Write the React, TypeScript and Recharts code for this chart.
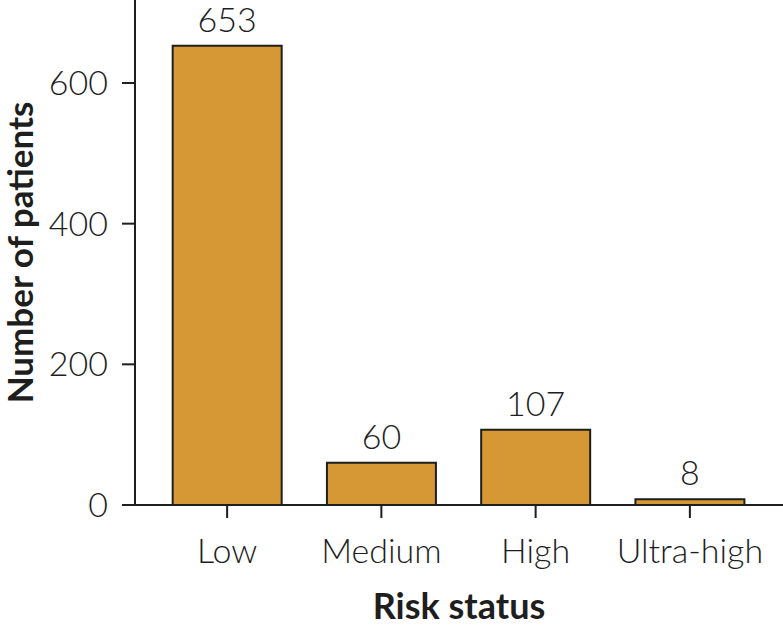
import { BarChart, Bar, XAxis, YAxis, LabelList } from "recharts";

const categories = ["Low", "Medium", "High", "Ultra-high"];
const patients = [653, 60, 107, 8];
const yTicks = [0, 200, 400, 600];

const data = categories.map((name, i) => ({ name, patients: patients[i] }));

const FONT = "Lato, 'Open Sans', sans-serif";
const INK = "#1e1e1e";

export default function App() {
  return (
    <div style={{ position: "absolute", left: 0, top: 0, background: "#fff" }}>
      <BarChart
        width={783}
        height={626}
        data={data}
        margin={{ top: 0, right: 0, left: 0, bottom: 0 }}
        barCategoryGap="14.7%"
      >
        <XAxis
          dataKey="name"
          height={121}
          padding={{ left: 15, right: 16 }}
          axisLine={{ stroke: INK, strokeWidth: 2 }}
          tickLine={{ stroke: INK, strokeWidth: 2 }}
          tickSize={13}
          tickMargin={21}
          tick={{ fontSize: 34, fill: INK, fontFamily: FONT, fontWeight: 300 }}
          label={{
            value: "Risk status",
            position: "insideBottom",
            offset: 7,
            style: { fontSize: 36, fill: INK, fontFamily: FONT, fontWeight: 700 },
          }}
        />
        <YAxis
          width={135}
          domain={[0, 718]}
          ticks={yTicks}
          allowDataOverflow
          axisLine={{ stroke: INK, strokeWidth: 2 }}
          tickLine={{ stroke: INK, strokeWidth: 2 }}
          tickSize={13}
          tickMargin={14}
          tick={{ fontSize: 34, fill: INK, fontFamily: FONT, fontWeight: 300 }}
          label={{
            value: "Number of patients",
            angle: -90,
            position: "insideLeft",
            offset: 21,
            style: {
              fontSize: 35,
              fill: INK,
              fontFamily: FONT,
              fontWeight: 700,
              textAnchor: "middle",
            },
          }}
        />
        <Bar
          dataKey="patients"
          fill="#d69834"
          stroke={INK}
          strokeWidth={2}
          isAnimationActive={false}
        >
          <LabelList
            dataKey="patients"
            position="top"
            offset={14}
            style={{ fontSize: 34, fill: INK, fontFamily: FONT, fontWeight: 300 }}
          />
        </Bar>
      </BarChart>
    </div>
  );
}
